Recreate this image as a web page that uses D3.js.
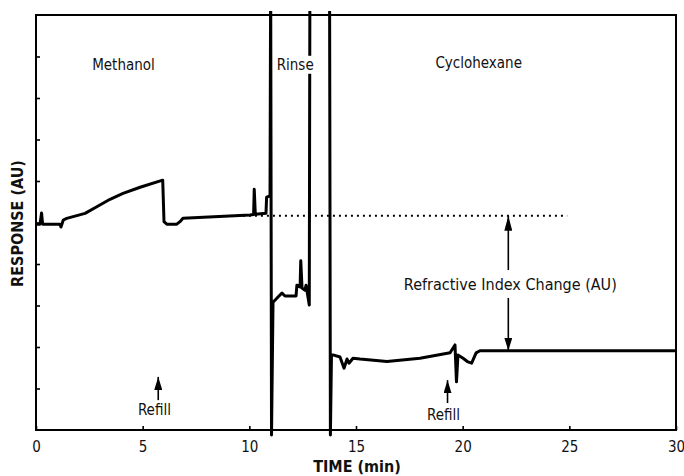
<!DOCTYPE html>
<html>
<head>
<meta charset="utf-8">
<script src="https://cdn.jsdelivr.net/npm/d3@7"></script>
<style>
  html, body { margin: 0; padding: 0; background: #fff; }
  svg { display: block; }
  text { font-family: "DejaVu Sans Condensed", "DejaVu Sans", sans-serif; fill: #111; }
</style>
</head>
<body>
<svg id="chart" width="684" height="476"></svg>
<script>
// ---- data (time in min, response in AU; off-scale excursions given as 11) ----
const time = [0, 0.19, 0.26, 0.31, 1.12, 1.17, 1.28, 1.44, 2.30, 2.85, 3.47, 4.08, 4.88, 5.94, 6.00, 6.13, 6.60, 6.75, 6.89,
  10.03, 10.20, 10.23, 10.28, 10.78, 10.81, 10.97, 11.00, 11.04, 11.11, 11.30, 11.53, 11.67, 12.19, 12.23, 12.38, 12.41,
  12.47, 12.61, 12.66, 12.81, 12.84, 13.76, 13.80, 13.85, 13.92, 14.25, 14.44, 14.58, 14.67, 14.86, 15.19, 16.45, 18.00,
  19.41, 19.64, 19.71, 19.78, 20.02, 20.25, 20.42, 20.63, 20.81, 30];
const response = [4.96, 4.96, 5.23, 4.96, 4.96, 4.89, 5.06, 5.10, 5.22, 5.38, 5.56, 5.70, 5.85, 6.02, 5.02, 4.96, 4.96, 5.02, 5.10,
  5.18, 5.19, 5.80, 5.20, 5.22, 5.61, 5.64, 11, -0.12, 3.08, 3.18, 3.30, 3.23, 3.23, 3.49, 3.45, 4.08,
  3.42, 3.37, 3.49, 3.01, 11, 11, -0.12, 1.81, 1.81, 1.76, 1.49, 1.71, 1.61, 1.73, 1.71, 1.65, 1.73,
  1.86, 2.05, 1.16, 1.81, 1.73, 1.64, 1.61, 1.86, 1.91, 1.91];

const xTicks = [0, 5, 10, 15, 20, 25, 30];
const yTicks = [1, 2, 3, 4, 5, 6, 7, 8, 9];

// reference (methanol) level, dotted
const refLevelTime = [9.7, 24.9];
const refLevel = 5.16;
// refractive index change double arrow
const ricTime = 22.14;
const ricValues = [5.16, 1.91];
const ricLabel = "Refractive Index Change (AU)";
// region labels
const regionLabels = ["Methanol", "Rinse", "Cyclohexane"];
const regionLabelTime = [4.1, 12.15, 20.75];
const regionLabelValue = [8.68, 8.68, 8.73];
// refill arrows
const refillTime = [5.73, 19.29];
const refillTipValue = [1.28, 1.20];
const refillTailValue = [0.72, 0.65];
const refillLabelTime = [5.55, 19.1];
const refillLabelValue = [0.36, 0.24];

// ---- layout ----
const svg = d3.select("#chart");
const margin = { left: 36, right: 8, top: 15, bottom: 46 };
const W = 684, H = 476;
const x = d3.scaleLinear().domain([0, 30]).range([margin.left, W - margin.right]);
const y = d3.scaleLinear().domain([0, 10]).range([H - margin.bottom, margin.top]);

const defs = svg.append("defs");
defs.append("clipPath").attr("id", "clip").append("rect")
  .attr("x", 30).attr("y", 11).attr("width", 660).attr("height", 465);
defs.append("marker").attr("id", "headLong").attr("viewBox", "0 0 15 8")
  .attr("refX", 15).attr("refY", 4).attr("markerWidth", 15).attr("markerHeight", 8)
  .attr("markerUnits", "userSpaceOnUse").attr("orient", "auto")
  .append("path").attr("d", "M0,0 L15,4 L0,8 Z").attr("fill", "#000");
defs.append("marker").attr("id", "headShort").attr("viewBox", "0 0 13 8")
  .attr("refX", 13).attr("refY", 4).attr("markerWidth", 13).attr("markerHeight", 8)
  .attr("markerUnits", "userSpaceOnUse").attr("orient", "auto")
  .append("path").attr("d", "M0,0 L13,4 L0,8 Z").attr("fill", "#000");

// axes
const xAxis = svg.append("g").attr("transform", `translate(0,${y(0)})`)
  .call(d3.axisBottom(x).tickValues(xTicks).tickSize(-4).tickPadding(11).tickFormat(d3.format("d")));
xAxis.select(".domain").remove();
xAxis.selectAll(".tick line").attr("stroke", "#000").attr("stroke-width", 1.6);
xAxis.selectAll(".tick text").style("font-size", "15px").attr("fill", "#111")
  .style("font-family", '"DejaVu Sans Condensed", "DejaVu Sans", sans-serif');

const yAxis = svg.append("g").attr("transform", `translate(${x(0)},0)`)
  .call(d3.axisLeft(y).tickValues(yTicks).tickSize(-4).tickFormat(""));
yAxis.select(".domain").remove();
yAxis.selectAll(".tick line").attr("stroke", "#000").attr("stroke-width", 1.6);

// frame
svg.append("rect").attr("x", x(0)).attr("y", y(10))
  .attr("width", x(30) - x(0)).attr("height", y(0) - y(10))
  .attr("fill", "none").attr("stroke", "#000").attr("stroke-width", 2);

// dotted reference line
svg.append("line")
  .attr("x1", x(refLevelTime[0])).attr("x2", x(refLevelTime[1]))
  .attr("y1", y(refLevel)).attr("y2", y(refLevel))
  .attr("stroke", "#000").attr("stroke-width", 2).attr("stroke-dasharray", "2,4");

// trace
const pts = time.map((t, i) => [t, response[i]]);
svg.append("path").datum(pts)
  .attr("clip-path", "url(#clip)")
  .attr("d", d3.line().x(d => x(d[0])).y(d => y(d[1])))
  .attr("fill", "none").attr("stroke", "#000").attr("stroke-width", 3)
  .attr("stroke-linejoin", "round");

// region labels
regionLabels.forEach((lab, i) => {
  const t = svg.append("text").attr("x", x(regionLabelTime[i])).attr("y", y(regionLabelValue[i]))
    .attr("text-anchor", "middle").style("font-size", "15px").text(lab);
  if (lab === "Rinse") {
    const b = t.node().getBBox();
    svg.insert("rect", () => t.node()).attr("x", b.x - 1).attr("y", b.y).attr("width", b.width + 2)
      .attr("height", b.height).attr("fill", "#fff");
  }
});

// refractive index change arrow + label
const lab = svg.append("text").attr("x", x(ricTime) + 2).attr("y", 290)
  .attr("text-anchor", "middle").style("font-size", "16px").text(ricLabel);
const lb = lab.node().getBBox();
svg.append("line").attr("x1", x(ricTime)).attr("x2", x(ricTime))
  .attr("y1", lb.y - 5).attr("y2", y(ricValues[0]))
  .attr("stroke", "#000").attr("stroke-width", 1.6).attr("marker-end", "url(#headLong)");
svg.append("line").attr("x1", x(ricTime)).attr("x2", x(ricTime))
  .attr("y1", lb.y + lb.height + 4).attr("y2", y(ricValues[1]))
  .attr("stroke", "#000").attr("stroke-width", 1.6).attr("marker-end", "url(#headShort)");

// refill arrows
refillTime.forEach((t, i) => {
  svg.append("line").attr("x1", x(t)).attr("x2", x(t))
    .attr("y1", y(refillTailValue[i])).attr("y2", y(refillTipValue[i]))
    .attr("stroke", "#000").attr("stroke-width", 1.6).attr("marker-end", "url(#headShort)");
  svg.append("text").attr("x", x(refillLabelTime[i])).attr("y", y(refillLabelValue[i]))
    .attr("text-anchor", "middle").style("font-size", "15px").text("Refill");
});

// axis titles
svg.append("text").attr("x", x(15) + 1).attr("y", 472).attr("text-anchor", "middle")
  .style("font-size", "16px").style("font-weight", "bold").text("TIME (min)");
svg.append("text").attr("transform", `translate(23,${y(5) + 1}) rotate(-90)`)
  .attr("text-anchor", "middle").style("font-size", "16px").style("font-weight", "bold")
  .text("RESPONSE (AU)");
</script>
</body>
</html>
